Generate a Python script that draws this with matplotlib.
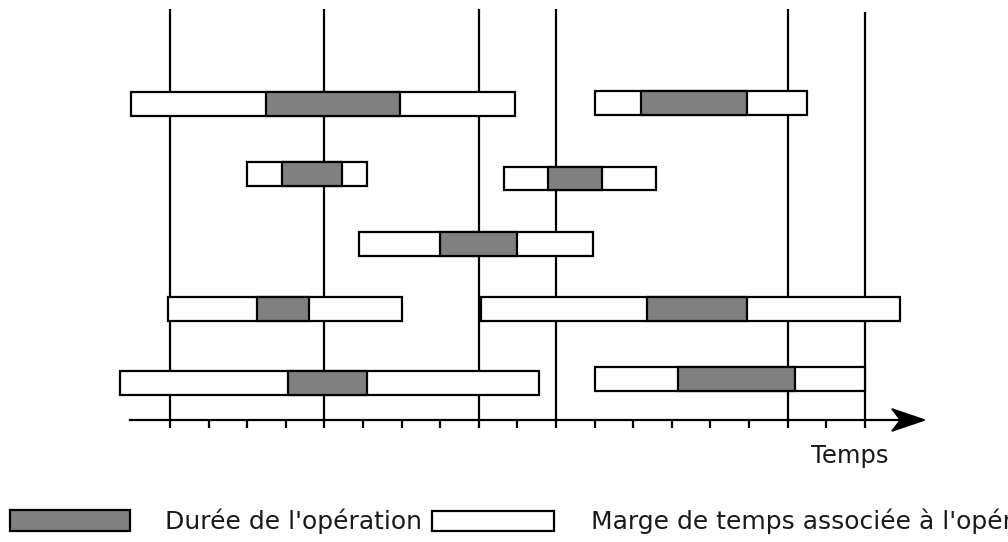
import matplotlib
matplotlib.use("Agg")
import matplotlib.pyplot as plt
from matplotlib.patches import Polygon, Rectangle

# Marges (debut/fin) et operations (debut/fin), en unites de temps
margeDebut = [-1.0, 11.0, 2.0, 8.65, 4.9, -0.05, 8.05, -1.3, 11.0]
margeFin = [8.95, 16.5, 5.1, 12.6, 10.95, 6.0, 18.9, 9.55, 18.0]
opDebut = [2.5, 12.2, 2.9, 9.8, 7.0, 2.25, 12.35, 3.05, 13.15]
opFin = [5.95, 14.95, 4.45, 11.2, 9.0, 3.6, 14.95, 5.1, 16.2]
niveau = [4.51, 4.53, 3.51, 3.45, 2.51, 1.59, 1.59, 0.53, 0.59]

# Reperes verticaux et graduations
reperes = [0, 4, 8, 10, 16, 18]
graduations = list(range(19))

legendeOp = "Durée de l'opération"
legendeMarge = "Marge de temps associée à l'opération"
labelAxe = "Temps"

gris = "#808080"

def main():
	fig = plt.figure(figsize=(10.08, 5.42), dpi=100)
	ax = fig.add_axes([0, 0, 1, 1])
	ax.set_xlim(-4.404, 21.71)
	ax.set_ylim(-1.743, 6.0)
	ax.axis("off")

	# Lignes verticales
	ax.vlines(reperes[:-1], 0, 5.87, color="black", lw=1.6, zorder=1)
	ax.vlines(reperes[-1:], 0, 5.83, color="black", lw=1.6, zorder=1)
	ax.vlines(graduations, -0.12, 0, color="black", lw=1.6, zorder=1)

	# Axe du temps avec fleche
	ax.plot([-1.04, 19.0], [0, 0], color="black", lw=1.6, zorder=1)
	ax.add_patch(Polygon([(19.55, 0), (18.7, 0.16), (18.92, 0), (18.7, -0.16)],
		closed=True, color="black", zorder=2))

	# Barres : marge blanche puis operation grise
	for i in range(len(niveau)):
		ax.barh(niveau[i], margeFin[i] - margeDebut[i], left=margeDebut[i], height=0.34,
			color="white", edgecolor="black", linewidth=1.6, zorder=3)
		ax.barh(niveau[i], opFin[i] - opDebut[i], left=opDebut[i], height=0.34,
			color=gris, edgecolor="black", linewidth=1.6, zorder=4)

	ax.text(16.6, -0.62, labelAxe, fontsize=17.5, va="baseline", ha="left", color="#1a1a1a")

	# Legende (le texte de droite est coupe au bord, comme dans l'original)
	ax.add_patch(Rectangle((-4.15, -1.585), 3.12, 0.305, facecolor=gris, edgecolor="black", lw=1.6))
	ax.text(-0.12, -1.56, legendeOp, fontsize=18, va="baseline", ha="left", color="#1a1a1a")
	ax.add_patch(Rectangle((6.8, -1.585), 3.15, 0.29, facecolor="white", edgecolor="black", lw=1.6))
	ax.text(10.9, -1.56, legendeMarge, fontsize=18, va="baseline", ha="left", color="#1a1a1a")

	fig.savefig("out.png", dpi=100)

if __name__ == "__main__":
	main()
